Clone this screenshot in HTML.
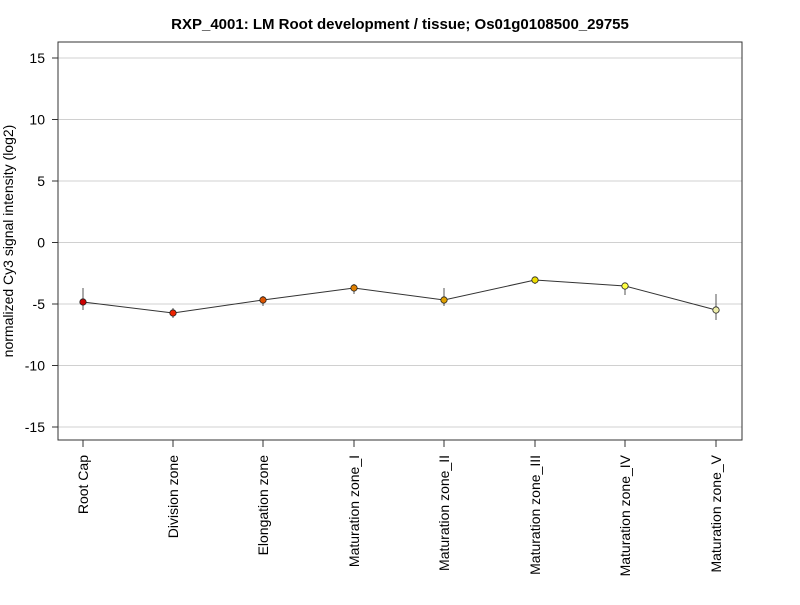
<!DOCTYPE html>
<html><head><style>body{margin:0;background:#fff}</style></head><body>
<svg width="800" height="600" xmlns="http://www.w3.org/2000/svg" font-family="Liberation Sans, Arial, sans-serif">
<rect width="800" height="600" fill="#fff"/>
<text x="400" y="29" text-anchor="middle" font-size="15" font-weight="bold">RXP_4001: LM Root development / tissue; Os01g0108500_29755</text>
<g stroke="#d0d0d0" stroke-width="1">
<line x1="58" x2="742" y1="58" y2="58"/><line x1="58" x2="742" y1="119.5" y2="119.5"/>
<line x1="58" x2="742" y1="181" y2="181"/><line x1="58" x2="742" y1="242.5" y2="242.5"/>
<line x1="58" x2="742" y1="304" y2="304"/><line x1="58" x2="742" y1="365.5" y2="365.5"/>
<line x1="58" x2="742" y1="427" y2="427"/>
</g>
<rect x="58" y="42" width="684" height="398" fill="none" stroke="#333"/>
<g stroke="#333"><line x1="52" x2="58" y1="58" y2="58"/><line x1="52" x2="58" y1="119.5" y2="119.5"/><line x1="52" x2="58" y1="181" y2="181"/><line x1="52" x2="58" y1="242.5" y2="242.5"/><line x1="52" x2="58" y1="304" y2="304"/><line x1="52" x2="58" y1="365.5" y2="365.5"/><line x1="52" x2="58" y1="427" y2="427"/></g>
<g font-size="14" text-anchor="end">
<text x="45" y="63">15</text><text x="45" y="124.5">10</text><text x="45" y="186">5</text><text x="45" y="247.5">0</text><text x="45" y="309">-5</text><text x="45" y="370.5">-10</text><text x="45" y="432">-15</text>
</g>
<text transform="translate(13,241) rotate(-90)" text-anchor="middle" font-size="14">normalized Cy3 signal intensity (log2)</text>
<g stroke="#333">
<line x1="83" x2="83" y1="440" y2="447"/><line x1="173" x2="173" y1="440" y2="447"/><line x1="263" x2="263" y1="440" y2="447"/><line x1="354" x2="354" y1="440" y2="447"/><line x1="444" x2="444" y1="440" y2="447"/><line x1="535" x2="535" y1="440" y2="447"/><line x1="625" x2="625" y1="440" y2="447"/><line x1="716" x2="716" y1="440" y2="447"/>
</g>
<g font-size="14" text-anchor="end">
<text transform="translate(88,455) rotate(-90)">Root Cap</text>
<text transform="translate(178,455) rotate(-90)">Division zone</text>
<text transform="translate(268,455) rotate(-90)">Elongation zone</text>
<text transform="translate(359,455) rotate(-90)">Maturation zone_I</text>
<text transform="translate(449,455) rotate(-90)">Maturation zone_II</text>
<text transform="translate(540,455) rotate(-90)">Maturation zone_III</text>
<text transform="translate(630,455) rotate(-90)">Maturation zone_IV</text>
<text transform="translate(721,455) rotate(-90)">Maturation zone_V</text>
</g>
<g stroke="#555" stroke-width="1">
<line x1="83" x2="83" y1="288" y2="310"/><line x1="173" x2="173" y1="308" y2="318"/><line x1="263" x2="263" y1="296" y2="306"/><line x1="354" x2="354" y1="284" y2="294"/><line x1="444" x2="444" y1="288" y2="306"/><line x1="535" x2="535" y1="277" y2="284"/><line x1="625" x2="625" y1="283" y2="295"/><line x1="716" x2="716" y1="294" y2="320"/>
</g>
<polyline fill="none" stroke="#333" points="83,302 173,313 263,300 354,288 444,300 535,280 625,286 716,310"/>
<g stroke="#222" stroke-width="0.8">
<circle cx="83" cy="302" r="3.2" fill="#cc0000"/>
<circle cx="173" cy="313" r="3.2" fill="#ee2200"/>
<circle cx="263" cy="300" r="3.2" fill="#dd5500"/>
<circle cx="354" cy="288" r="3.2" fill="#e08000"/>
<circle cx="444" cy="300" r="3.2" fill="#e0a000"/>
<circle cx="535" cy="280" r="3.2" fill="#eedd00"/>
<circle cx="625" cy="286" r="3.2" fill="#ffff44"/>
<circle cx="716" cy="310" r="3.2" fill="#eeeeaa"/>
</g>
</svg>
</body></html>
